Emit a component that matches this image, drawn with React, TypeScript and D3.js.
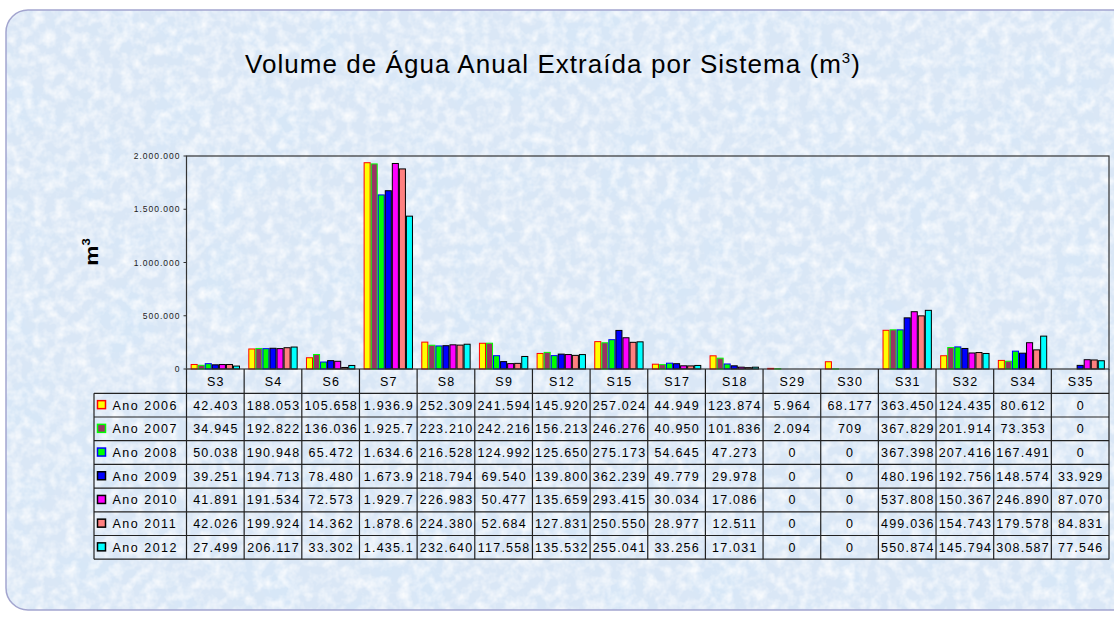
import React from 'react';
import * as d3 from 'd3';

const categories = ['S3', 'S4', 'S6', 'S7', 'S8', 'S9', 'S12', 'S15', 'S17', 'S18', 'S29', 'S30', 'S31', 'S32', 'S34', 'S35'];
const seriesNames = ['Ano 2006', 'Ano 2007', 'Ano 2008', 'Ano 2009', 'Ano 2010', 'Ano 2011', 'Ano 2012'];
const v2006 = [42403, 188053, 105658, 1936900, 252309, 241594, 145920, 257024, 44949, 123874, 5964, 68177, 363450, 124435, 80612, 0];
const v2007 = [34945, 192822, 136036, 1925700, 223210, 242216, 156213, 246276, 40950, 101836, 2094, 709, 367829, 201914, 73353, 0];
const v2008 = [50038, 190948, 65472, 1634600, 216528, 124992, 125650, 275173, 54645, 47273, 0, 0, 367398, 207416, 167491, 0];
const v2009 = [39251, 194713, 78480, 1673900, 218794, 69540, 139800, 362239, 49779, 29978, 0, 0, 480196, 192756, 148574, 33929];
const v2010 = [41891, 191534, 72573, 1929700, 226983, 50477, 135659, 293415, 30034, 17086, 0, 0, 537808, 150367, 246890, 87070];
const v2011 = [42026, 199924, 14362, 1878600, 224380, 52684, 127831, 250550, 28977, 12511, 0, 0, 499036, 154743, 179578, 84831];
const v2012 = [27499, 206117, 33302, 1435100, 232640, 117558, 135532, 255041, 33256, 17031, 0, 0, 550874, 145794, 308587, 77546];
const yTicks = [0, 500000, 1000000, 1500000, 2000000];

const fills = ['#FFFF00', '#993366', '#00FF00', '#0000FF', '#FF00FF', '#FF8080', '#00FFFF'];
const strokes = ['#FF0000', '#00FF00', '#0000FF', '#000000', '#000000', '#000000', '#000000'];

const series = [v2006, v2007, v2008, v2009, v2010, v2011, v2012];

const locale = d3.formatLocale({ decimal: ',', thousands: '.', grouping: [3], currency: ['', ''] });
const fmt = locale.format(',d');
const cellText = (v: number) => fmt(v).slice(0, 7);

export default function App() {
  const W = 1114, H = 618;
  const plotL = 186.5, plotR = 1109, plotT = 156, plotB = 369;
  const tableL = 94;
  const headerB = 393.3;
  const rowH = 23.7;

  const x0 = d3.scaleBand<string>().domain(categories).range([plotL, plotR]).paddingInner(0).paddingOuter(0);
  const bw = x0.bandwidth();
  const x1 = d3.scaleBand<string>().domain(seriesNames).range([bw * 0.072, bw * 0.928]).padding(0);
  const y = d3.scaleLinear().domain([0, 2000000]).range([plotB, plotT]);

  const tableBottom = headerB + rowH * seriesNames.length;
  const font = 'Liberation Sans, Arial, sans-serif';

  return (
    <svg width={W} height={H} style={{ position: 'absolute', left: 0, top: 0 }} fontFamily={font}>
      <defs>
        <filter id="tex" x="0" y="0" width="100%" height="100%">
          <feTurbulence type="fractalNoise" baseFrequency="0.09" numOctaves="3" seed="4" result="n" />
          <feColorMatrix in="n" type="matrix" values="0 0 0 0 1  0 0 0 0 1  0 0 0 0 1  1.6 0 0 0 -0.6" />
        </filter>
        <filter id="tex2" x="0" y="0" width="100%" height="100%">
          <feTurbulence type="fractalNoise" baseFrequency="0.02" numOctaves="2" seed="9" result="n" />
          <feColorMatrix in="n" type="matrix" values="0 0 0 0 0.64  0 0 0 0 0.79  0 0 0 0 0.95  0 1.1 0 0 -0.5" />
        </filter>
        <clipPath id="card">
          <rect x={6} y={10} width={1140} height={600} rx={22} />
        </clipPath>
      </defs>
      <rect x={0} y={0} width={W} height={H} fill="#ffffff" />
      <g clipPath="url(#card)">
        <rect x={6} y={10} width={1140} height={600} fill="#dae7f6" />
        <rect x={6} y={10} width={1140} height={600} filter="url(#tex2)" />
        <rect x={6} y={10} width={1140} height={600} filter="url(#tex)" />
      </g>
      <rect x={6} y={10} width={1140} height={600} rx={22} fill="none" stroke="#a3a5cf" strokeWidth={1.5} />

      {/* title */}
      <text x={553} y={73} textAnchor="middle" fontSize={26} letterSpacing={1.05} fill="#000">
        Volume de Água Anual Extraída por Sistema (m<tspan dy={-10} fontSize={15}>3</tspan><tspan dy={10}>)</tspan>
      </text>

      {/* y axis title */}
      <text transform="translate(98,252) rotate(-90) scale(1.2,1)" textAnchor="middle" fontSize={19} fontWeight="bold" fill="#000">
        m<tspan dy={-8} fontSize={11}>3</tspan>
      </text>

      {/* y ticks */}
      {yTicks.map((t) => (
        <g key={t}>
          <line x1={plotL - 3} x2={plotL} y1={y(t)} y2={y(t)} stroke="#333" />
          <text x={plotL - 6} y={y(t) + 3} textAnchor="end" fontSize={8.5} letterSpacing={1} fill="#222">{fmt(t)}</text>
        </g>
      ))}

      {/* bars */}
      {categories.map((c, ci) => (
        <g key={c} transform={`translate(${x0(c)},0)`}>
          {series.map((s, si) => {
            const v = s[ci];
            if (v <= 0) return null;
            return (
              <rect
                key={si}
                x={x1(seriesNames[si])! + 0.5}
                y={y(v)}
                width={x1.bandwidth() - 1}
                height={plotB - y(v)}
                fill={fills[si]}
                stroke={strokes[si]}
                strokeWidth={1}
              />
            );
          })}
        </g>
      ))}

      {/* plot frame */}
      <rect x={plotL} y={plotT} width={plotR - plotL} height={plotB - plotT} fill="none" stroke="#333" strokeWidth={1.2} />

      {/* table grid */}
      <g stroke="#222" strokeWidth={1.2}>
        {d3.range(seriesNames.length + 1).map((i) => (
          <line key={'h' + i} x1={tableL} x2={plotR} y1={headerB + i * rowH} y2={headerB + i * rowH} />
        ))}
        <line x1={tableL} x2={tableL} y1={headerB} y2={tableBottom} />
        {categories.map((c) => (
          <line key={'v' + c} x1={x0(c)!} x2={x0(c)!} y1={plotB} y2={tableBottom} />
        ))}
        <line x1={plotR} x2={plotR} y1={plotB} y2={tableBottom} />
      </g>

      {/* header */}
      {categories.map((c) => (
        <text key={'hd' + c} x={x0(c)! + bw / 2 + 0.6} y={386} textAnchor="middle" fontSize={12.5} letterSpacing={1.2} fill="#000">{c}</text>
      ))}

      {/* rows */}
      {seriesNames.map((name, si) => {
        const yTop = headerB + si * rowH;
        const cy = yTop + rowH / 2;
        return (
          <g key={name}>
            <rect x={97.5} y={cy - 4.5} width={8} height={8} fill={fills[si]} stroke={strokes[si]} strokeWidth={1.5} />
            <text x={112.5} y={cy + 4.5} fontSize={12.5} letterSpacing={1.5} fill="#000">{name}</text>
            {categories.map((c, ci) => (
              <text key={c} x={x0(c)! + bw / 2 + 0.6} y={cy + 4.5} textAnchor="middle" fontSize={12.5} letterSpacing={1.2} fill="#000">
                {cellText(series[si][ci])}
              </text>
            ))}
          </g>
        );
      })}
    </svg>
  );
}
